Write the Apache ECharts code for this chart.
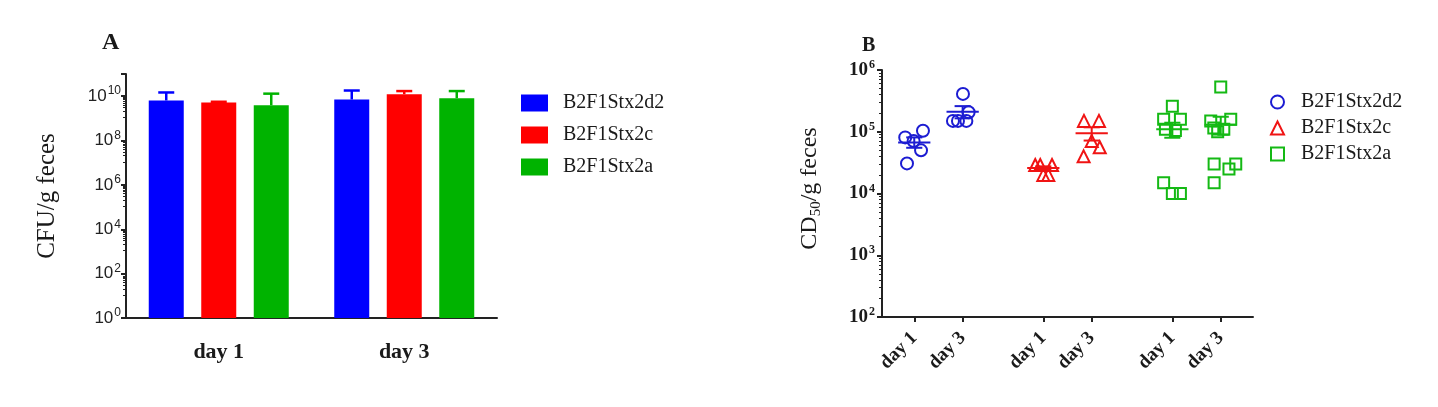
<!DOCTYPE html>
<html><head><meta charset="utf-8">
<script src="https://cdn.jsdelivr.net/npm/echarts@6/dist/echarts.min.js"></script>
<style>html,body{margin:0;padding:0;background:#fff}#c{width:1438px;height:407px}</style>
</head><body><div id="c"></div>
<script>
// ---------- data ----------
const strains = ['B2F1Stx2d2', 'B2F1Stx2c', 'B2F1Stx2a'];
const daysA = ['day 1', 'day 3'];
// Panel A: bar heights (CFU/g feces) per strain [day1, day3]
const barD2d2 = [6.4e9, 7.1e9];
const barC = [5.2e9, 1.23e10];
const barA = [3.9e9, 8.1e9];
// Panel A: upper end of error bars
const errD2d2 = [1.47e10, 1.8e10];
const errC = [5.6e9, 1.7e10];
const errA = [1.3e10, 1.7e10];

// Panel B: x positions of each group and their labels
const groupPosB = [2, 5, 10, 13, 18, 21];
const dayLabelsB = ['day 1', 'day 3', 'day 1', 'day 3', 'day 1', 'day 3'];
// Panel B points: [horizontal jitter, CD50/g feces]
const ptsD2d2Day1 = [[-0.56, 8.1e4], [0.54, 1.04e5], [-0.04, 7.1e4], [0.42, 5.0e4], [-0.45, 3.07e4]];
const ptsD2d2Day3 = [[0.02, 4.1e5], [-0.6, 1.5e5], [-0.29, 1.5e5], [0.23, 1.5e5], [0.37, 2.07e5]];
const ptsCDay1 = [[-0.5, 2.9e4], [-0.19, 2.9e4], [0.54, 2.9e4], [0.0, 2.0e4], [0.31, 2.0e4]];
const ptsCDay3 = [[-0.48, 1.5e5], [0.45, 1.5e5], [0.0, 7.1e4], [0.5, 5.6e4], [-0.5, 4.0e4]];
const ptsADay1 = [[0.0, 2.6e5], [-0.54, 1.6e5], [0.5, 1.6e5], [-0.43, 1.1e5], [0.19, 1.05e5], [-0.54, 1.5e4], [0.0, 1.0e4], [0.5, 1.0e4]];
const ptsADay3 = [[0.0, 5.3e5], [-0.62, 1.5e5], [0.62, 1.6e5], [-0.43, 1.15e5], [0.19, 1.1e5], [-0.19, 1.0e5], [-0.41, 3.0e4], [0.51, 2.5e4], [0.93, 3.0e4], [-0.41, 1.5e4]];
// Panel B mean and SEM range per strain [day1, day3]
const meanD2d2 = [6.7e4, 2.1e5], semLoD2d2 = [5.5e4, 1.65e5], semHiD2d2 = [8.1e4, 2.6e5];
const meanC = [2.6e4, 9.5e4], semLoC = [2.45e4, 7.2e4], semHiC = [2.75e4, 1.18e5];
const meanA = [1.1e5, 1.3e5], semLoA = [8.0e4, 9.0e4], semHiA = [1.4e5, 1.75e5];

// ---------- style ----------
const colorsA = ['#0000ff', '#ff0000', '#00b300'];
const colorsB = ['#1c1cd2', '#f01414', '#14b914'];
const symbolsB = ['circle', 'triangle', 'rect'];
const serif = 'Liberation Serif';
const ink = '#1a1a1a';

const bars = [barD2d2, barC, barA];
const errs = [errD2d2, errC, errA];
const ptsB = [[ptsD2d2Day1, ptsD2d2Day3], [ptsCDay1, ptsCDay3], [ptsADay1, ptsADay3]];
const meansB = [meanD2d2, meanC, meanA];
const losB = [semLoD2d2, semLoC, semLoA];
const hisB = [semHiD2d2, semHiC, semHiA];

const BAR_W = 35, BAR_GAP = 17.5;

const series = [];
strains.forEach((s, i) => {
  series.push({
    name: s, type: 'bar', xAxisIndex: 0, yAxisIndex: 0,
    data: bars[i], barWidth: BAR_W, barGap: '50%',
    itemStyle: { color: colorsA[i] }, z: 2
  });
});
strains.forEach((s, i) => {
  series.push({
    name: s + ' err', type: 'custom', xAxisIndex: 0, yAxisIndex: 0, z: 3,
    data: daysA.map((d, k) => [k, bars[i][k], errs[i][k]]),
    renderItem: (params, api) => {
      const p = api.coord([api.value(0), api.value(1)]);
      const q = api.coord([api.value(0), api.value(2)]);
      const x = p[0] + (i - 1) * (BAR_W + BAR_GAP);
      const st = { stroke: colorsA[i], lineWidth: 2.5 };
      return { type: 'group', children: [
        { type: 'line', shape: { x1: x, y1: p[1], x2: x, y2: q[1] }, style: st },
        { type: 'line', shape: { x1: x - 8, y1: q[1], x2: x + 8, y2: q[1] }, style: st }
      ]};
    }
  });
});
strains.forEach((s, i) => {
  const data = [];
  ptsB[i].forEach((arr, d) => {
    const gx = groupPosB[i * 2 + d];
    arr.forEach(p => data.push([gx + p[0], p[1]]));
  });
  series.push({
    name: s, type: 'scatter', xAxisIndex: 1, yAxisIndex: 1,
    data, symbol: symbolsB[i], symbolSize: i === 2 ? 11 : 12,
    itemStyle: { color: 'rgba(0,0,0,0)', borderColor: colorsB[i], borderWidth: 2, opacity: 1 }
  });
  series.push({
    name: s + ' mean', type: 'custom', xAxisIndex: 1, yAxisIndex: 1, z: 3,
    data: [0, 1].map(d => [groupPosB[i * 2 + d], meansB[i][d], losB[i][d], hisB[i][d]]),
    renderItem: (params, api) => {
      const x = api.value(0);
      const m1 = api.coord([x - 1, api.value(1)]);
      const m2 = api.coord([x + 1, api.value(1)]);
      const l1 = api.coord([x - 0.5, api.value(2)]);
      const l2 = api.coord([x + 0.5, api.value(2)]);
      const h1 = api.coord([x - 0.5, api.value(3)]);
      const h2 = api.coord([x + 0.5, api.value(3)]);
      const cx = (m1[0] + m2[0]) / 2;
      const st = { stroke: colorsB[i], lineWidth: 2 };
      return { type: 'group', children: [
        { type: 'line', shape: { x1: m1[0], y1: m1[1], x2: m2[0], y2: m2[1] }, style: st },
        { type: 'line', shape: { x1: cx, y1: l1[1], x2: cx, y2: h1[1] }, style: st },
        { type: 'line', shape: { x1: l1[0], y1: l1[1], x2: l2[0], y2: l2[1] }, style: st },
        { type: 'line', shape: { x1: h1[0], y1: h1[1], x2: h2[0], y2: h2[1] }, style: st }
      ]};
    }
  });
});

const supFmt = v => {
  const e = Math.round(Math.log10(v));
  return '{b|10}{s|' + e + '}';
};

const option = {
  animation: false,
  grid: [
    { left: 126, top: 74, width: 371, height: 244 },
    { left: 882, top: 70, width: 371, height: 247 }
  ],
  graphic: [
    { type: 'text', left: 102, top: 31, style: { text: 'A', font: 'bold 24px "Liberation Serif"', fill: ink } },
    { type: 'text', left: 862, top: 36, style: { text: 'B', font: 'bold 20px "Liberation Serif"', fill: ink } }
  ],
  legend: [
    {
      left: 516, top: 88, orient: 'vertical', itemWidth: 27, itemHeight: 17, itemGap: 12,
      selectedMode: false,
      data: strains.map((s, i) => ({ name: s, icon: 'rect', itemStyle: { color: colorsA[i], borderWidth: 0 } })),
      textStyle: { fontFamily: serif, fontSize: 20, color: ink, padding: [0, 0, 0, 10] }
    },
    {
      left: 1265, top: 87, orient: 'vertical', itemWidth: 13, itemHeight: 13, itemGap: 6,
      selectedMode: false,
      data: strains.map((s, i) => ({ name: s, icon: symbolsB[i],
        itemStyle: { color: 'rgba(0,0,0,0)', borderColor: colorsB[i], borderWidth: 2 } })),
      textStyle: { fontFamily: serif, fontSize: 20, color: ink, padding: [0, 0, 0, 12] }
    }
  ],
  xAxis: [
    {
      type: 'category', gridIndex: 0, data: daysA,
      axisLine: { lineStyle: { color: '#222', width: 2 } },
      axisTick: { alignWithLabel: true, length: 6, lineStyle: { color: '#222', width: 2 } },
      axisLabel: { fontFamily: serif, fontWeight: 'bold', fontSize: 22, color: ink, margin: 23 }
    },
    {
      type: 'value', gridIndex: 1, min: 0, max: 23, splitLine: { show: false },
      axisLine: { onZero: false, lineStyle: { color: '#222', width: 2 } },
      axisTick: { customValues: groupPosB, length: 5, lineStyle: { color: '#222', width: 2 } },
      axisLabel: { customValues: groupPosB, rotate: 45, margin: 18,
        formatter: v => dayLabelsB[groupPosB.indexOf(v)] || '',
        fontFamily: serif, fontWeight: 'bold', fontSize: 19, color: ink }
    }
  ],
  yAxis: [
    {
      type: 'log', gridIndex: 0, logBase: 10, min: 1, max: 1e11, interval: 2,
      splitLine: { show: false },
      axisLine: { show: true, lineStyle: { color: '#222', width: 2 } },
      axisTick: { show: true, length: 5, lineStyle: { color: '#222', width: 2 } },
      minorTick: { show: true, splitNumber: 10, length: 3, lineStyle: { color: '#222', width: 1 } },
      axisLabel: { showMaxLabel: false, formatter: supFmt, margin: 5,
        rich: {
          b: { fontFamily: 'Liberation Sans', fontSize: 17, color: '#222', lineHeight: 22, verticalAlign: 'middle' },
          s: { fontFamily: 'Liberation Sans', fontSize: 12, color: '#222', lineHeight: 22, verticalAlign: 'top', padding: [0, 0, 0, 1] }
        } },
      name: 'CFU/g feces', nameLocation: 'middle', nameRotate: 90, nameGap: 66,
      nameTextStyle: { fontFamily: serif, fontSize: 25, color: ink }
    },
    {
      type: 'log', gridIndex: 1, logBase: 10, min: 100, max: 1e6,
      splitLine: { show: false },
      axisLine: { show: true, lineStyle: { color: '#222', width: 2 } },
      axisTick: { show: true, length: 5, lineStyle: { color: '#222', width: 2 } },
      minorTick: { show: true, splitNumber: 9, length: 3, lineStyle: { color: '#222', width: 1 } },
      axisLabel: { formatter: supFmt, margin: 7,
        rich: {
          b: { fontFamily: serif, fontWeight: 'bold', fontSize: 19, color: ink, lineHeight: 22, verticalAlign: 'middle' },
          s: { fontFamily: serif, fontWeight: 'bold', fontSize: 12, color: ink, lineHeight: 22, verticalAlign: 'top', padding: [0, 0, 0, 1] }
        } },
      name: '{n|CD}{sub|50}{n|/g feces}', nameLocation: 'middle', nameRotate: 90, nameGap: 58,
      nameTextStyle: { padding: [0, 0, 0, 10], rich: {
        n: { fontFamily: serif, fontSize: 24, color: ink, lineHeight: 28, verticalAlign: 'middle' },
        sub: { fontFamily: serif, fontSize: 15, color: ink, lineHeight: 28, verticalAlign: 'bottom' }
      } }
    }
  ],
  series
};
const chart = echarts.init(document.getElementById('c'), null, { renderer: 'canvas' });
chart.setOption(option);
</script>
</body></html>
